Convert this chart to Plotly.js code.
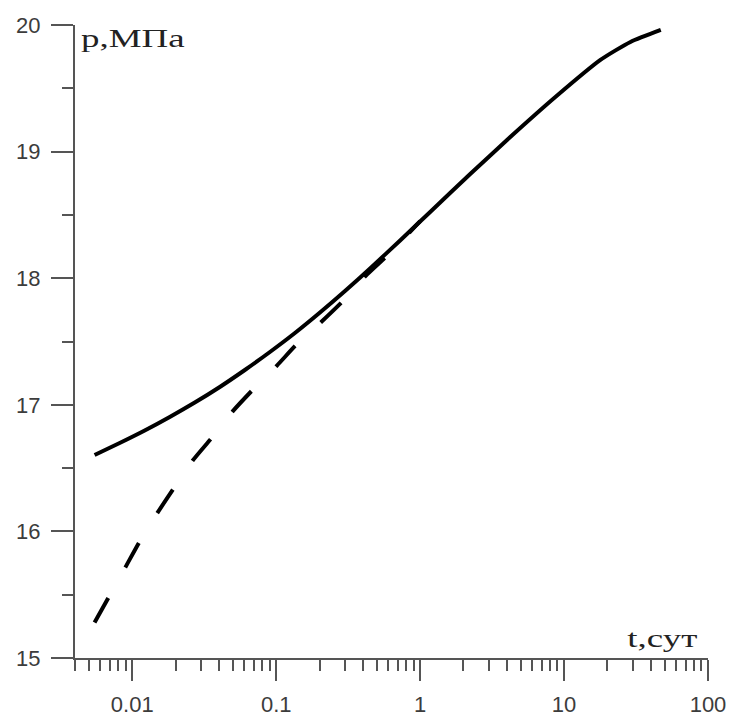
<!DOCTYPE html>
<html>
<head>
<meta charset="utf-8">
<script src="https://cdn.plot.ly/plotly-3.0.1.min.js"></script>
<style>
html,body{margin:0;padding:0;background:#fff;}
#chart{width:733px;height:719px;}
</style>
</head>
<body>
<div id="chart"></div>
<script>
// Solid curve (actual pressure)
const solidT = [0.005472, 0.008174, 0.0122, 0.01821, 0.02718, 0.04056, 0.06056, 0.09042, 0.1349, 0.2014, 0.3006, 0.4488, 0.7258, 1.174, 2.228, 4.229, 8.70, 17.89, 28.93, 46.98];
const solidP = [16.603, 16.698, 16.797, 16.904, 17.018, 17.141, 17.275, 17.417, 17.567, 17.729, 17.899, 18.077, 18.298, 18.523, 18.823, 19.115, 19.431, 19.724, 19.866, 19.961];

// Dashed curve (asymptote)
const dashT = [0.00547, 0.00685, 0.00899, 0.01125, 0.01503, 0.01941, 0.0263, 0.03569, 0.05, 0.0689, 0.1012, 0.1393, 0.208, 0.291, 0.428, 0.618, 1.0];
const dashP = [15.28, 15.48, 15.72, 15.92, 16.15, 16.34, 16.56, 16.74, 16.95, 17.12, 17.31, 17.48, 17.66, 17.82, 18.03, 18.20, 18.45];

const xTickVals = [0.01, 0.1, 1, 10, 100];
const xTickText = ['0.01', '0.1', '1', '10', '100'];
const yTickVals = [15, 16, 17, 18, 19, 20];

const axisColor = '#555';
const labelFont = {family: 'Liberation Sans, Arial, sans-serif', size: 22, color: '#3c3c3c'};
const serifFont = {family: 'Liberation Serif, Times New Roman, serif', size: 26, color: '#222'};

const traces = [
  {x: dashT, y: dashP, mode: 'lines', line: {color: '#000', width: 4, dash: '28px,35px', shape: 'spline', smoothing: 0.6}, hoverinfo: 'skip'},
  {x: solidT, y: solidP, mode: 'lines', line: {color: '#000', width: 4, shape: 'spline', smoothing: 0.6}, hoverinfo: 'skip'}
];

const layout = {
  width: 733, height: 719,
  margin: {l: 75, r: 25, t: 25, b: 61},
  paper_bgcolor: '#fff', plot_bgcolor: '#fff',
  showlegend: false,
  xaxis: {
    type: 'log', range: [Math.log10(0.004), 2],
    tickvals: xTickVals, ticktext: xTickText,
    showgrid: false, zeroline: false,
    showline: true, linecolor: axisColor, linewidth: 2,
    ticks: 'outside', ticklen: 21, tickwidth: 2, tickcolor: axisColor,
    tickfont: labelFont, ticklabelstandoff: 5,
    minor: {dtick: 'D1', ticks: 'outside', ticklen: 11, tickwidth: 2, tickcolor: axisColor, showgrid: false}
  },
  yaxis: {
    range: [15, 20],
    tickvals: yTickVals,
    showgrid: false, zeroline: false,
    showline: true, linecolor: axisColor, linewidth: 2,
    ticks: 'outside', ticklen: 22, tickwidth: 2, tickcolor: axisColor,
    tickfont: labelFont, ticklabelstandoff: 6,
    minor: {dtick: 0.5, ticks: 'outside', ticklen: 11, tickwidth: 2, tickcolor: axisColor, showgrid: false}
  },
  annotations: [
    {text: 'p,МПа', xref: 'paper', yref: 'paper', x: 0.007, y: 1.0, yshift: 3, xanchor: 'left', yanchor: 'top', showarrow: false, font: serifFont},
    {text: 't,сут', xref: 'paper', yref: 'paper', x: 0.985, y: 0.005, xanchor: 'right', yanchor: 'bottom', showarrow: false, font: serifFont}
  ]
};

Plotly.newPlot('chart', traces, layout, {staticPlot: true, displayModeBar: false}).then(function () {
  // the reference uses a wide serif face: stretch the axis captions horizontally
  const texts = document.querySelectorAll('#chart .annotation-text');
  texts.forEach(function (el, i) {
    const bb = el.getBBox();
    const ax = (i === 0) ? bb.x : bb.x + bb.width;
    el.setAttribute('transform', 'translate(' + ax + ',0) scale(1.42,1) translate(' + (-ax) + ',0)');
  });
});
</script>
</body>
</html>
